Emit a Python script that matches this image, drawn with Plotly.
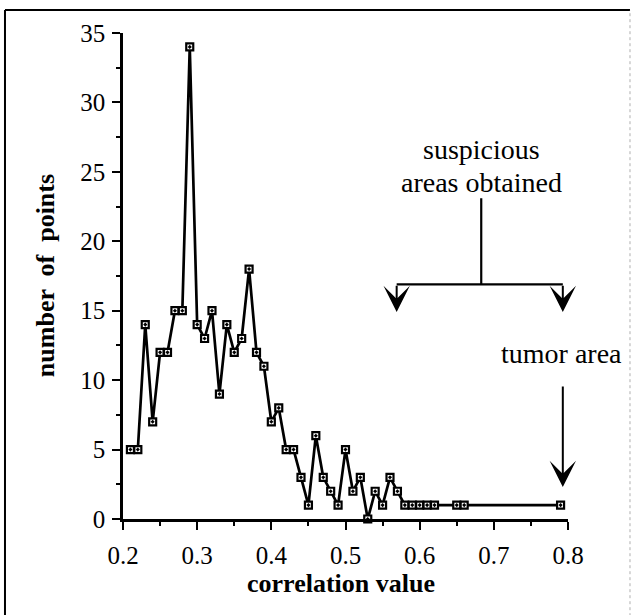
import plotly.graph_objects as go

# data: histogram of correlation values
corr_values = [0.21, 0.22, 0.23, 0.24, 0.25, 0.26, 0.27, 0.28, 0.29, 0.30,
               0.31, 0.32, 0.33, 0.34, 0.35, 0.36, 0.37, 0.38, 0.39, 0.40,
               0.41, 0.42, 0.43, 0.44, 0.45, 0.46, 0.47, 0.48, 0.49, 0.50,
               0.51, 0.52, 0.53, 0.54, 0.55, 0.56, 0.57, 0.58, 0.59, 0.60,
               0.61, 0.62, 0.65, 0.66, 0.79]
num_points = [5, 5, 14, 7, 12, 12, 15, 15, 34, 14,
              13, 15, 9, 14, 12, 13, 18, 12, 11, 7,
              8, 5, 5, 3, 1, 6, 3, 2, 1, 5,
              2, 3, 0, 2, 1, 3, 2, 1, 1, 1,
              1, 1, 1, 1, 1]
x_ticks = [0.2, 0.3, 0.4, 0.5, 0.6, 0.7, 0.8]
x_tick_labels = ["0.2", "0.3", "0.4", "0.5", "0.6", "0.7", "0.8"]
y_ticks = [0, 5, 10, 15, 20, 25, 30, 35]

FONT = "Liberation Serif, Times New Roman, serif"

fig = go.Figure()
fig.add_trace(go.Scatter(
    x=corr_values, y=num_points, mode="lines+markers",
    line=dict(color="black", width=2.7),
    marker=dict(symbol="square-dot", size=7, color="white",
                line=dict(color="black", width=2.2)),
    showlegend=False, cliponaxis=False, hoverinfo="skip",
))

axis_common = dict(
    showgrid=False, zeroline=False, showline=True, linecolor="black",
    linewidth=2.5, ticks="outside", tickcolor="black", tickwidth=2,
    ticklen=8, tickfont=dict(family=FONT, size=25, color="black"),
)
fig.update_xaxes(range=[0.2, 0.8], tickvals=x_ticks, ticktext=x_tick_labels,
                 ticklabelstandoff=4,
                 minor=dict(dtick=0.05, ticks="outside", ticklen=4,
                            tickwidth=2, tickcolor="black"),
                 **axis_common)
fig.update_yaxes(range=[0, 35], tickvals=y_ticks, ticklabelstandoff=2,
                 minor=dict(dtick=2.5, ticks="outside", ticklen=4,
                            tickwidth=2, tickcolor="black"),
                 **axis_common)

annots = []
# axis titles
annots.append(dict(text="<b>correlation value</b>", xref="paper", yref="paper",
                   x=0.49, y=-0.132, xanchor="center", yanchor="middle",
                   showarrow=False,
                   font=dict(family=FONT, size=26, color="black")))
annots.append(dict(text="<b>number  of  points</b>", xref="paper", yref="paper",
                   x=-0.175, y=0.5, xanchor="center", yanchor="middle",
                   showarrow=False, textangle=-90,
                   font=dict(family=FONT, size=26, color="black")))
# labels
annots.append(dict(text="suspicious", xref="x", yref="y",
                   x=0.683, y=26.6, showarrow=False,
                   font=dict(family=FONT, size=28, color="black")))
annots.append(dict(text="areas obtained", xref="x", yref="y",
                   x=0.683, y=24.2, showarrow=False,
                   font=dict(family=FONT, size=28, color="black")))
annots.append(dict(text="tumor area", xref="x", yref="y",
                   x=0.791, y=11.9, showarrow=False,
                   font=dict(family=FONT, size=28, color="black")))
# arrows
for (hx, hy, tx, ty) in [(0.569, 14.9, 0.569, 16.9),
                         (0.793, 14.9, 0.793, 16.9),
                         (0.793, 2.3, 0.793, 9.65)]:
    annots.append(dict(text="", x=hx, y=hy, ax=tx, ay=ty, xref="x", yref="y",
                       axref="x", ayref="y", showarrow=True, arrowhead=3,
                       arrowsize=2.2, arrowwidth=2, arrowcolor="black",
                       standoff=0, startstandoff=0))
fig.update_layout(annotations=annots)

shapes = [
    dict(type="line", xref="x", yref="y", x0=0.683, x1=0.683, y0=16.9, y1=23.1,
         line=dict(color="black", width=2.2)),
    dict(type="line", xref="x", yref="y", x0=0.569, x1=0.793, y0=16.9, y1=16.9,
         line=dict(color="black", width=2.2)),
    # page frame
    dict(type="line", xref="paper", yref="paper", x0=-0.2652, x1=-0.2652,
         y0=-0.2, y1=1.0473, line=dict(color="black", width=2)),
    dict(type="line", xref="paper", yref="paper", x0=-0.2652, x1=1.1393,
         y0=1.0473, y1=1.0473, line=dict(color="black", width=2)),
    dict(type="line", xref="paper", yref="paper", x0=1.1393, x1=1.1393,
         y0=-0.2, y1=1.0473, line=dict(color="#b0b0b0", width=1, dash="dot")),
]
fig.update_layout(shapes=shapes)

fig.update_layout(
    width=632, height=615,
    margin=dict(l=123, r=64, t=33, b=96),
    paper_bgcolor="white", plot_bgcolor="white",
    hovermode=False,
)

fig.write_html("out.html", config={"displayModeBar": False},
               post_script="document.body.style.margin='0';"
                           "document.body.style.overflow='hidden';")
